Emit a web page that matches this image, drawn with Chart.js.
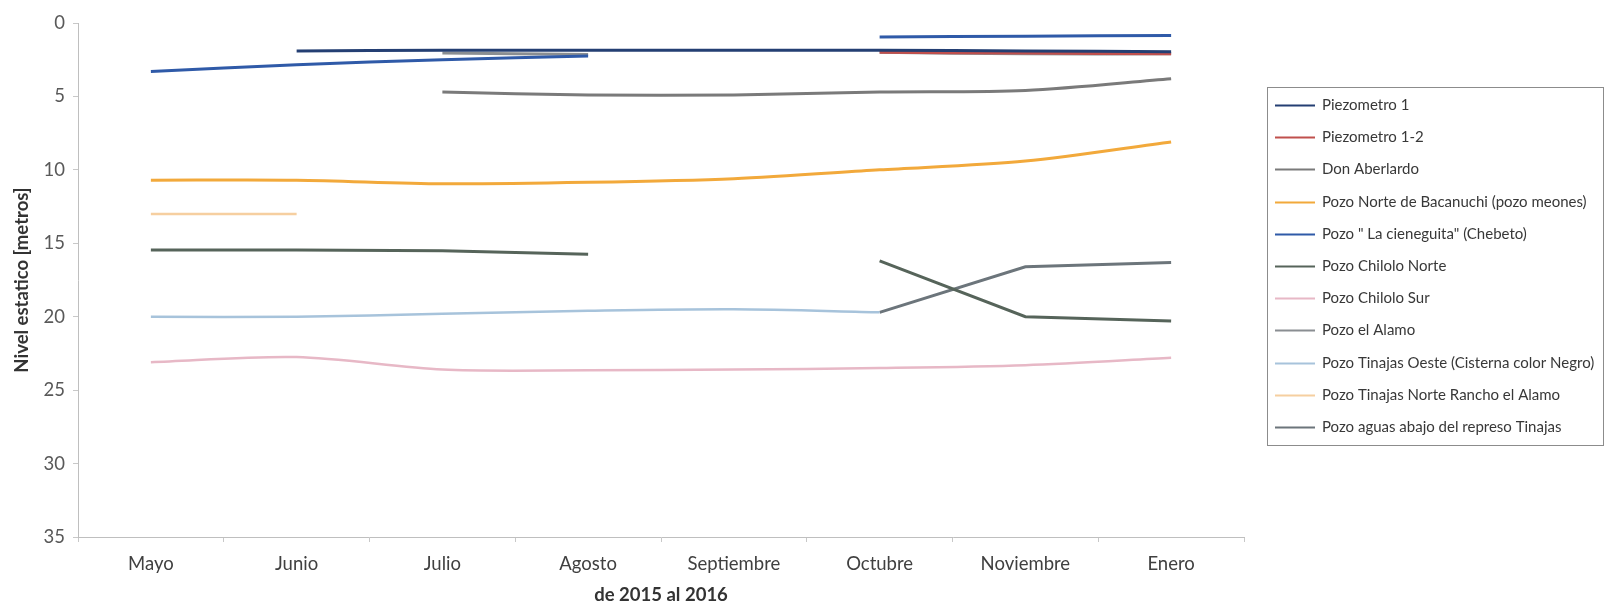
<!DOCTYPE html>
<html>
<head>
<meta charset="utf-8">
<script src="https://cdn.jsdelivr.net/npm/chart.js@4.4.1/dist/chart.umd.min.js"></script>
<style>
  html, body { margin: 0; padding: 0; background: #ffffff; }
  #wrap { width: 1606px; height: 609px; }
</style>
</head>
<body>
<div id="wrap"><canvas id="chart" width="1606" height="609"></canvas></div>
<script>
// Meses de medición (mayo 2015 a enero 2016)
const months = ['Mayo', 'Junio', 'Julio', 'Agosto', 'Septiembre', 'Octubre', 'Noviembre', 'Enero'];

// Nivel estático (metros) por pozo; null = sin medición
const piezometro1   = [null, 1.9, 1.85, 1.85, 1.85, 1.85, 1.9, 1.95];
const piezometro12  = [null, null, null, null, null, 2.0, 2.05, 2.1];
const donAberlardo  = [null, null, 4.7, 4.9, 4.9, 4.7, 4.6, 3.8];
const bacanuchi     = [10.7, 10.7, 10.95, 10.85, 10.6, 10.0, 9.4, 8.1];
const cieneguita    = [3.3, 2.85, 2.5, 2.25, null, 0.95, 0.9, 0.85];
const chiloloNorte  = [15.45, 15.45, 15.5, 15.75, null, 16.2, 20.0, 20.3];
const chiloloSur    = [23.1, 22.75, 23.6, 23.65, 23.6, 23.5, 23.3, 22.8];
const elAlamo       = [null, null, 2.05, 2.15, null, 2.0, 2.1, 2.1];
const tinajasOeste  = [20.0, 20.0, 19.8, 19.6, 19.5, 19.7, null, null];
const tinajasNorte  = [13.0, 13.0, null, null, null, null, null, null];
const aguasAbajo    = [null, null, null, null, null, 19.7, 16.6, 16.3];

const yTicks = [0, 5, 10, 15, 20, 25, 30, 35];

const FONT = "Lato, 'Liberation Sans', sans-serif";

function serie(label, data, color, width, tension) {
  return {
    label: label,
    data: data,
    borderColor: color,
    backgroundColor: color,
    borderWidth: width,
    pointRadius: 0,
    pointHoverRadius: 0,
    tension: tension,
    spanGaps: false,
    fill: false
  };
}

// Leyenda enmarcada a la derecha del área de trazado
const boxedLegend = {
  id: 'boxedLegend',
  afterDraw(chart) {
    const ctx = chart.ctx;
    const x0 = 1267, y0 = 87, x1 = 1603, y1 = 445;
    const firstY = 105, step = 32.2;
    ctx.save();
    ctx.strokeStyle = '#8c8c8c';
    ctx.lineWidth = 1;
    ctx.strokeRect(x0 + 0.5, y0 + 0.5, x1 - x0, y1 - y0);
    ctx.font = "15px " + FONT;
    ctx.textBaseline = 'middle';
    ctx.textAlign = 'left';
    chart.data.datasets.forEach((ds, i) => {
      const y = Math.round(firstY + i * step) + 0.5;
      ctx.strokeStyle = ds.borderColor;
      ctx.lineWidth = 2;
      ctx.beginPath();
      ctx.moveTo(1275, y);
      ctx.lineTo(1315, y);
      ctx.stroke();
      ctx.fillStyle = '#383838';
      ctx.fillText(ds.label, 1322, y);
    });
    ctx.restore();
  }
};

new Chart(document.getElementById('chart'), {
  type: 'line',
  data: {
    labels: months,
    datasets: [
      serie('Piezometro 1', piezometro1, '#243f73', 3, 0.3),
      serie('Piezometro 1-2', piezometro12, '#c0504d', 3, 0.3),
      serie('Don Aberlardo', donAberlardo, '#7a7a7a', 3, 0.3),
      serie('Pozo Norte de Bacanuchi (pozo meones)', bacanuchi, '#f2a93b', 3, 0.3),
      serie('Pozo " La cieneguita" (Chebeto)', cieneguita, '#2f5aa8', 3, 0.3),
      serie('Pozo Chilolo Norte', chiloloNorte, '#56645a', 3, 0),
      serie('Pozo Chilolo Sur', chiloloSur, '#e7b8c6', 2.5, 0.3),
      serie('Pozo el Alamo', elAlamo, '#8a8e92', 3, 0.3),
      serie('Pozo Tinajas Oeste (Cisterna color Negro)', tinajasOeste, '#a7c3db', 2.5, 0.3),
      serie('Pozo Tinajas Norte Rancho el Alamo', tinajasNorte, '#f6cfa0', 2.5, 0.3),
      serie('Pozo aguas abajo del represo Tinajas', aguasAbajo, '#6c757b', 3, 0)
    ]
  },
  options: {
    responsive: false,
    animation: false,
    devicePixelRatio: 1,
    layout: { padding: { top: 23, right: 362, bottom: 0, left: 0 } },
    plugins: {
      legend: { display: false },
      tooltip: { enabled: false },
      title: { display: false }
    },
    scales: {
      x: {
        type: 'category',
        offset: true,
        afterFit(scale) { scale.height = 72; },
        grid: {
          display: true,
          offset: true,
          drawOnChartArea: false,
          drawTicks: true,
          tickLength: 5,
          color: '#c8c8c8'
        },
        border: { display: true, color: '#bfbfbf', width: 1 },
        ticks: {
          color: '#404040',
          font: { family: FONT, size: 18.5 },
          padding: 11,
          maxRotation: 0,
          autoSkip: false
        },
        title: {
          display: true,
          text: 'de 2015 al 2016',
          color: '#333333',
          font: { family: FONT, size: 18.5, weight: 'bold' },
          padding: { top: 0, bottom: 3 }
        }
      },
      y: {
        reverse: true,
        min: 0,
        max: 35,
        afterFit(scale) { scale.width = 78; },
        afterBuildTicks(scale) { scale.ticks = yTicks.map(v => ({ value: v })); },
        grid: {
          display: true,
          drawOnChartArea: false,
          drawTicks: true,
          tickLength: 5,
          color: '#c8c8c8'
        },
        border: { display: true, color: '#bfbfbf', width: 1 },
        ticks: {
          color: '#595959',
          font: { family: FONT, size: 18.5 },
          padding: 8
        },
        title: {
          display: true,
          text: 'Nivel estatico [metros]',
          color: '#333333',
          font: { family: FONT, size: 18.5, weight: 'bold' },
          padding: { top: 11, bottom: 0 }
        }
      }
    }
  },
  plugins: [boxedLegend]
});
</script>
</body>
</html>
